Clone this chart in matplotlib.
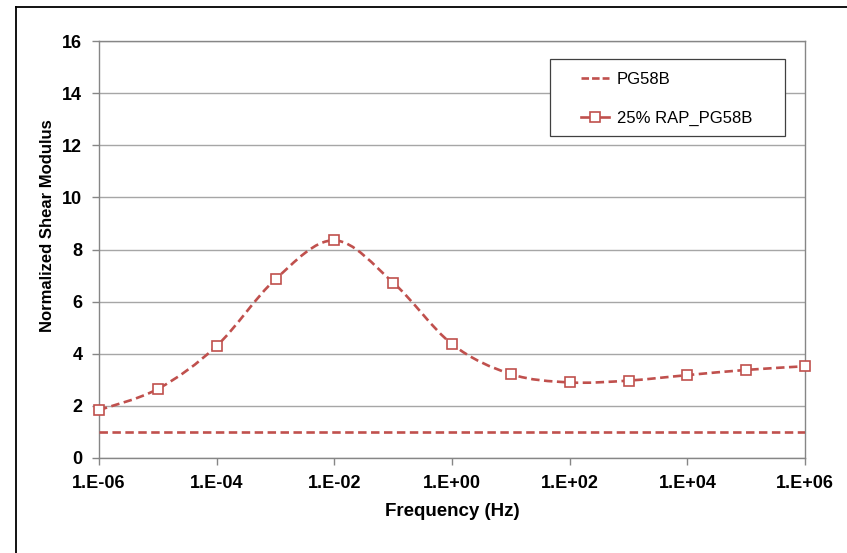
import numpy as np
import matplotlib
matplotlib.use("Agg")
import matplotlib.pyplot as plt
from matplotlib.path import Path
from matplotlib.patches import PathPatch, Rectangle
from matplotlib.lines import Line2D

# ---- data ----
freq = [1e-6, 1e-5, 1e-4, 1e-3, 1e-2, 1e-1, 1e0, 1e1, 1e2, 1e3, 1e4, 1e5, 1e6]
rap25 = [1.84, 2.65, 4.30, 6.86, 8.35, 6.73, 4.37, 3.22, 2.90, 2.97, 3.18, 3.38, 3.52]
pg58b_freq = [1e-6, 1e6]
pg58b = [1.0, 1.0]
xtick_vals = [1e-6, 1e-4, 1e-2, 1e0, 1e2, 1e4, 1e6]
xtick_labels = ["1.E-06", "1.E-04", "1.E-02", "1.E+00", "1.E+02", "1.E+04", "1.E+06"]
ytick_vals = [0, 2, 4, 6, 8, 10, 12, 14, 16]
series_names = ["PG58B", "25% RAP_PG58B"]

RED = "#C0504D"
GRID = "#A6A6A6"
AX = "#868686"
plt.rcParams["font.family"] = ["Liberation Sans", "DejaVu Sans"]

W, H = 847, 553
fig = plt.figure(figsize=(W/100, H/100), dpi=100)
PL, PR, PB, PT = 99, 805, 458, 41
ax = fig.add_axes([PL/W, 1-PB/H, (PR-PL)/W, (PB-PT)/H])
ax.set_xscale("log")
ax.set_xlim(1e-6, 1e6)
ax.set_ylim(0, 16)

def axc(px, py):
    return ((px-PL)/(PR-PL), (PB-py)/(PB-PT))

lw = 1.9
dashes = (3.2, 1.7)

# PG58B flat dashed line
ax.plot(pg58b_freq, pg58b, color=RED, lw=lw, dashes=dashes, zorder=3)

# 25% RAP: smooth (Excel-style Bezier) curve through the data points
lx = np.log10(freq)
y = np.array(rap25)
n = len(lx)
verts = [(freq[0], y[0])]
codes = [Path.MOVETO]
for i in range(n - 1):
    x0p, y0p = (lx[i-1], y[i-1]) if i > 0 else (lx[i], y[i])
    x3n, y3n = (lx[i+2], y[i+2]) if i + 2 < n else (lx[i+1], y[i+1])
    c1x = lx[i] + (lx[i+1] - x0p) / 6.0
    c1y = y[i] + (y[i+1] - y0p) / 6.0
    c2x = lx[i+1] - (x3n - lx[i]) / 6.0
    c2y = y[i+1] - (y3n - y[i]) / 6.0
    verts += [(10**c1x, c1y), (10**c2x, c2y), (freq[i+1], y[i+1])]
    codes += [Path.CURVE4] * 3
patch = PathPatch(Path(verts, codes), fill=False, edgecolor=RED, lw=lw,
                  linestyle=(0, dashes), zorder=3)
ax.add_patch(patch)
ax.plot(freq, rap25, linestyle="none", marker="s", markersize=7,
        markerfacecolor="white", markeredgecolor=RED, markeredgewidth=1.2,
        zorder=4, clip_on=False)

# axes styling
ax.set_yticks(ytick_vals)
ax.set_xticks(xtick_vals)
ax.set_xticklabels(xtick_labels)
ax.minorticks_off()
ax.yaxis.grid(True, color=GRID, lw=1.0)
ax.set_axisbelow(True)
for s in ax.spines.values():
    s.set_color(AX)
    s.set_linewidth(1.0)
ax.tick_params(axis="both", which="major", direction="out", length=5, width=1.0,
               color=AX, labelsize=13)
ax.tick_params(axis="x", pad=7)
ax.tick_params(axis="y", pad=7)
for lab in ax.get_xticklabels() + ax.get_yticklabels():
    lab.set_fontweight("bold")

ax.set_xlabel("Frequency (Hz)", fontsize=13.5, fontweight="bold")
ax.set_ylabel("Normalized Shear Modulus", fontsize=12, fontweight="bold")
ax.xaxis.set_label_coords(0.5, axc(0, 512)[1])
ax.xaxis.label.set_va("center")
ax.yaxis.set_label_coords(axc(47, 0)[0], axc(0, 226)[1])
ax.yaxis.label.set_va("center")

# legend box
x0, y0 = axc(550, 136)
x1, y1 = axc(785, 59)
ax.add_patch(Rectangle((x0, y0), x1-x0, y1-y0, transform=ax.transAxes,
                       facecolor="white", edgecolor="#404040", lw=0.9,
                       zorder=5, clip_on=False))
h1 = Line2D([], [], color=RED, lw=lw, dashes=(2.85, 1.15))
h2 = Line2D([], [], color=RED, lw=lw, linestyle="-", marker="s", markersize=7,
            markerfacecolor="white", markeredgecolor=RED, markeredgewidth=1.2)
leg = ax.legend([h1, h2], series_names, loc="upper left",
                bbox_to_anchor=axc(581, 72), frameon=False, fontsize=12,
                handlelength=1.7, handletextpad=0.45, labelspacing=1.42,
                borderpad=0, borderaxespad=0)
leg.set_zorder(6)

# outer chart frame (top and left edges visible)
fig.add_artist(Line2D([16/W, 1], [1-7/H, 1-7/H], transform=fig.transFigure,
                      color="black", lw=1.3))
fig.add_artist(Line2D([16/W, 16/W], [0, 1-7/H], transform=fig.transFigure,
                      color="black", lw=1.3))

fig.savefig("out.png", dpi=100)
